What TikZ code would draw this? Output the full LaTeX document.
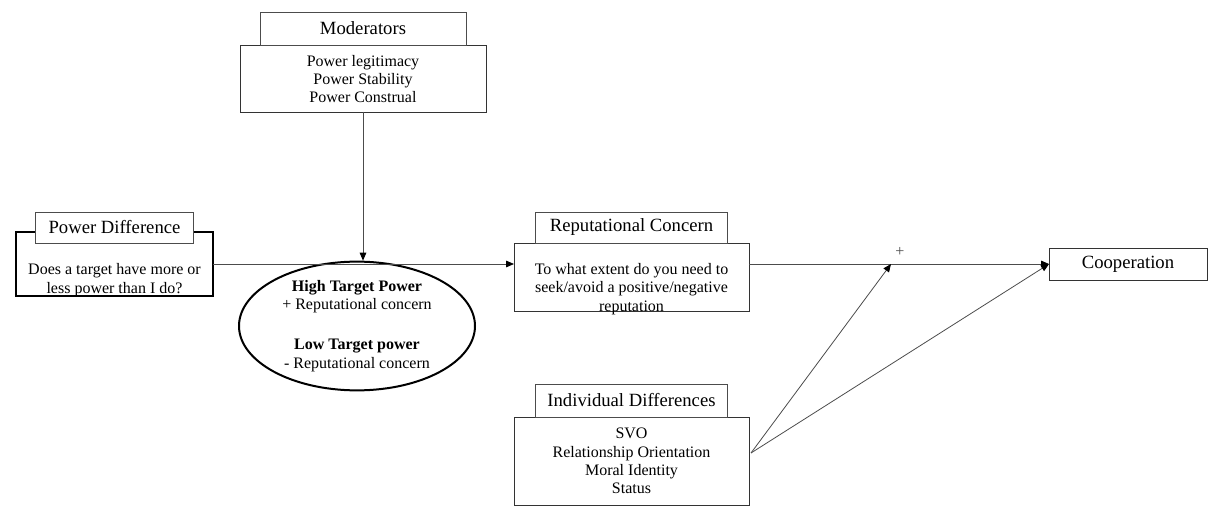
\documentclass[tikz,border=0pt]{standalone}
\usepackage{fontspec}
\setmainfont{Liberation Serif}
\usetikzlibrary{positioning,arrows.meta,shapes.geometric}

\tikzset{
    body/.style={draw=black!80, line width=0.6pt, fill=white, inner sep=0pt, outer sep=0pt},
    thickbody/.style={body, draw=black, line width=1.5pt},
    head/.style={draw=black!70, line width=0.6pt, fill=white, inner sep=0pt, outer sep=0pt,
        font=\fontsize{14}{16}\selectfont},
    txt/.style={align=center, inner sep=0pt, font=\fontsize{12}{13.8}\selectfont},
    link/.style={draw=black!70, line width=0.6pt, -{Triangle[length=6pt,width=5pt,color=black]}}
}

\begin{document}
\begin{tikzpicture}[x=0.75pt, y=-0.75pt]
    \useasboundingbox (0,0) rectangle (1208,506);

    % Draw the boxes with their headers
    \node[body, minimum width=184.5pt, minimum height=50.25pt] (modbody) at (363,78.5) {};
    \node[head, minimum width=154.5pt, minimum height=24.75pt, above=0pt of modbody] (modhead) {Moderators};
    \node[txt] (modtext) at (363,79) {Power legitimacy\\Power Stability\\Power Construal};

    \node[thickbody, minimum width=147.75pt, minimum height=48pt] (pdbody) at (114.5,264) {};
    \node[head, minimum width=118.5pt, minimum height=23.25pt, above=-8.25pt of pdbody] (pdhead) {Power Difference};
    \node[txt] (pdtext) at (114.5,280) {Does a target have more or\\less power than I do?};

    \node[body, minimum width=176.25pt, minimum height=51pt] (rcbody) at (631.5,277) {};
    \node[head, minimum width=144pt, minimum height=23.25pt, above=0pt of rcbody] (rchead) {Reputational Concern};
    \node[txt] (rctext) at (631.5,289) {To what extent do you need to\\seek/avoid a positive/negative\\reputation};

    \node[body, minimum width=176.25pt, minimum height=66pt] (idbody) at (631.5,461) {};
    \node[head, minimum width=144pt, minimum height=24.75pt, above=0pt of idbody] (idhead) {Individual Differences};
    \node[txt] (idtext) at (631.5,461) {SVO\\Relationship Orientation\\Moral Identity\\Status};

    \node[head, draw=black!80, minimum width=118.5pt, minimum height=24pt] (coop) at (1128,264) {Cooperation};

    % Draw the ellipse under the moderators
    \node[ellipse, draw=black, line width=1.5pt, inner sep=0pt, minimum width=177pt, minimum height=88.5pt,
        txt] (power) at (357,326)
        {\textbf{High Target Power}\\+ Reputational concern\\[16pt]\textbf{Low Target power}\\- Reputational concern};

    % Draw the arrows between the boxes
    \coordinate (join) at (891,264);
    \coordinate (idout) at (751,453);
    \draw[link] (modbody.south) -- (modbody.south |- power.north);
    \draw[link] (pdbody.east) -- (pdbody.east -| rcbody.west);
    \draw[link] (coop.west -| rcbody.east) -- (coop.west);
    \draw[link] (idout) -- (join);
    \draw[link] (idout) -- (coop.west);
    \node[txt, text=black!70] (plus) at (900,252) {+};
\end{tikzpicture}
\end{document}
